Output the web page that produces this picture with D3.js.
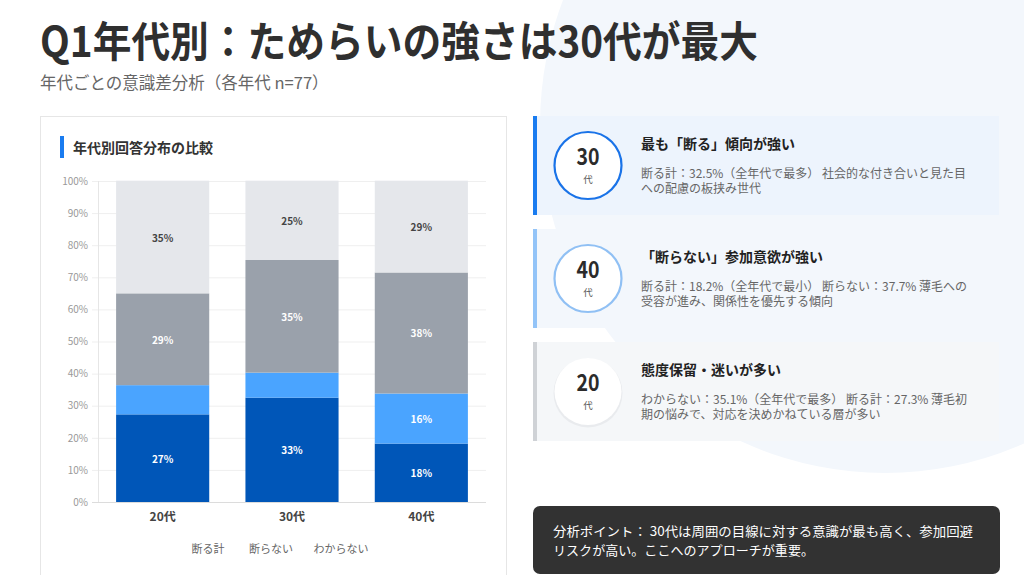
<!DOCTYPE html>
<html lang="ja">
<head>
<meta charset="utf-8">
<script src="https://cdn.jsdelivr.net/npm/d3@7/dist/d3.min.js"></script>
<style>
  html, body { margin: 0; padding: 0; background: #ffffff; }
  svg { display: block; font-family: "Noto Sans CJK JP", "Noto Sans", sans-serif; }
</style>
</head>
<body>
<svg id="page" width="1024" height="575"></svg>
<script>
// ---------- data ----------
const categories = ["20代", "30代", "40代"];
const seriesKeys = ["断る計", "未回答層", "断らない", "わからない"];
const kotowaruValues = [27.3, 32.5, 18.2];
const middleValues = [9.1, 7.8, 15.6];
const kotowaranaiValues = [28.6, 35.1, 37.7];
const wakaranaiValues = [35.1, 24.7, 28.6];
const legendLabels = ["断る計", "断らない", "わからない"];
const yTicks = [0, 10, 20, 30, 40, 50, 60, 70, 80, 90, 100];

const titleText = "Q1年代別：ためらいの強さは30代が最大";
const subtitleText = "年代ごとの意識差分析（各年代 n=77）";
const chartTitleText = "年代別回答分布の比較";

const cardAges = ["30", "40", "20"];
const cardTitles = ["最も「断る」傾向が強い", "「断らない」参加意欲が強い", "態度保留・迷いが多い"];
const cardLines = [
  ["断る計：32.5%（全年代で最多） 社会的な付き合いと見た目", "への配慮の板挟み世代"],
  ["断る計：18.2%（全年代で最小） 断らない：37.7% 薄毛への", "受容が進み、関係性を優先する傾向"],
  ["わからない：35.1%（全年代で最多） 断る計：27.3% 薄毛初", "期の悩みで、対応を決めかねている層が多い"]
];
const noteLines = ["分析ポイント： 30代は周囲の目線に対する意識が最も高く、参加回避", "リスクが高い。ここへのアプローチが重要。"];

// ---------- styles ----------
const colors = ["#0056b8", "#4aa4ff", "#9aa1ab", "#e5e7eb"];
const labelColors = ["#ffffff", "#ffffff", "#ffffff", "#444444"];
const cardAccent = ["#1a7cf0", "#93c4f8", "#cfd2d6"];
const cardFill = ["#edf4fd", "#f3f7fc", "#f5f7f9"];
const circleStroke = ["#1a73e8", "#90c0f4", "none"];

const svg = d3.select("#page");

// background blob
svg.append("ellipse").attr("cx", 885).attr("cy", 125).attr("rx", 345).attr("ry", 348)
  .attr("fill", "#f3f7fc");

// title & subtitle
svg.append("text").attr("x", 40).attr("y", 38).attr("dominant-baseline", "central")
  .attr("font-size", 42).attr("font-weight", 700).attr("fill", "#2f2f2f")
  .attr("textLength", 718).attr("lengthAdjust", "spacingAndGlyphs").text(titleText);
svg.append("text").attr("x", 40).attr("y", 82).attr("dominant-baseline", "central")
  .attr("font-size", 16.5).attr("fill", "#666").text(subtitleText);

// chart card
svg.append("rect").attr("x", 40.5).attr("y", 116.5).attr("width", 466).attr("height", 500)
  .attr("fill", "#fff").attr("stroke", "#e6e6e6");
svg.append("rect").attr("x", 60).attr("y", 136).attr("width", 4).attr("height", 22).attr("fill", "#1a7cf0");
svg.append("text").attr("x", 73).attr("y", 147).attr("dominant-baseline", "central")
  .attr("font-size", 14).attr("font-weight", 700).attr("fill", "#333").text(chartTitleText);

// scales
const x = d3.scaleBand().domain(categories).range([98, 486]).paddingInner(0.28).paddingOuter(0.14);
const y = d3.scaleLinear().domain([0, 100]).range([502, 181]);

// grid
const g = svg.append("g");
g.selectAll("line.grid").data(yTicks).join("line")
  .attr("x1", 92).attr("x2", 486)
  .attr("y1", d => y(d) + 0.5).attr("y2", d => y(d) + 0.5)
  .attr("stroke", d => d === 0 ? "#dcdcdc" : "#efefef").attr("stroke-width", 1);
g.append("line").attr("x1", 98.5).attr("x2", 98.5).attr("y1", y(100)).attr("y2", y(0))
  .attr("stroke", "#e6e6e6");

// y axis labels via d3 axis
const yAxis = d3.axisLeft(y).tickValues(yTicks).tickFormat(d => d + "%").tickSize(0).tickPadding(0);
const ya = svg.append("g").attr("transform", "translate(88,0)").call(yAxis);
ya.select(".domain").remove();
ya.selectAll("text").attr("font-size", 10).attr("fill", "#999")
  .attr("font-family", "'Noto Sans CJK JP', sans-serif");

// stacked data
const rows = categories.map((c, i) => ({
  cat: c,
  [seriesKeys[0]]: kotowaruValues[i],
  [seriesKeys[1]]: middleValues[i],
  [seriesKeys[2]]: kotowaranaiValues[i],
  [seriesKeys[3]]: wakaranaiValues[i]
}));
const stacked = d3.stack().keys(seriesKeys)(rows);

const layers = svg.append("g").selectAll("g.layer").data(stacked).join("g")
  .attr("fill", (d, i) => colors[i]);
layers.selectAll("rect").data(d => d).join("rect")
  .attr("x", d => x(d.data.cat))
  .attr("width", x.bandwidth())
  .attr("y", d => y(d[1]))
  .attr("height", d => y(d[0]) - y(d[1]));

// segment labels
const lab = svg.append("g");
stacked.forEach((layer, si) => {
  lab.selectAll("text.s" + si).data(layer.filter(d => (d[1] - d[0]) >= 10)).join("text")
    .attr("x", d => x(d.data.cat) + x.bandwidth() / 2)
    .attr("y", d => y((d[0] + d[1]) / 2))
    .attr("text-anchor", "middle").attr("dominant-baseline", "central")
    .attr("font-size", 10).attr("font-weight", 700).attr("fill", labelColors[si])
    .text(d => Math.round(d[1] - d[0]) + "%");
});

// x axis labels
const xAxis = d3.axisBottom(x).tickSize(0).tickPadding(0);
const xa = svg.append("g").attr("transform", "translate(0,512)").call(xAxis);
xa.select(".domain").remove();
xa.selectAll("text").attr("font-size", 12).attr("font-weight", 700).attr("fill", "#444")
  .attr("font-family", "'Noto Sans CJK JP', sans-serif");

// legend (text only)
const legendX = [208, 271, 341];
svg.append("g").selectAll("text").data(legendLabels).join("text")
  .attr("x", (d, i) => legendX[i]).attr("y", 548)
  .attr("text-anchor", "middle").attr("dominant-baseline", "central")
  .attr("font-size", 11).attr("fill", "#666").text(d => d);

// right cards
const cardTop = [116, 229, 342];
const cardH = 99;
cardTop.forEach((top, i) => {
  const cg = svg.append("g");
  cg.append("rect").attr("x", 533).attr("y", top).attr("width", 466).attr("height", cardH)
    .attr("fill", cardFill[i]);
  cg.append("rect").attr("x", 533).attr("y", top).attr("width", 4).attr("height", cardH)
    .attr("fill", cardAccent[i]);
  const cy = top + 49.5;
  if (i === 2) {
    cg.append("circle").attr("cx", 588).attr("cy", cy + 1.5).attr("r", 34.5).attr("fill", "#e9ebee");
  }
  cg.append("circle").attr("cx", 588).attr("cy", cy).attr("r", 33.5)
    .attr("fill", "#fff").attr("stroke", circleStroke[i]).attr("stroke-width", 2.2);
  cg.append("text").attr("x", 588).attr("y", cy - 11).attr("text-anchor", "middle")
    .attr("dominant-baseline", "central").attr("font-size", 23).attr("font-weight", 700)
    .attr("fill", "#2b2b2b").attr("textLength", 23).attr("lengthAdjust", "spacingAndGlyphs")
    .text(cardAges[i]);
  cg.append("text").attr("x", 588).attr("y", cy + 13.5).attr("text-anchor", "middle")
    .attr("dominant-baseline", "central").attr("font-size", 9.5).attr("fill", "#555").text("代");
  cg.append("text").attr("x", 641).attr("y", top + 27).attr("dominant-baseline", "central")
    .attr("font-size", 14).attr("font-weight", 700).attr("fill", "#222").text(cardTitles[i]);
  cg.selectAll("text.body").data(cardLines[i]).join("text")
    .attr("x", 641).attr("y", (d, j) => top + 56 + j * 15).attr("dominant-baseline", "central")
    .attr("font-size", 12).attr("fill", "#666").text(d => d);
});

// note box
svg.append("rect").attr("x", 533).attr("y", 506).attr("width", 467).attr("height", 68)
  .attr("rx", 7).attr("fill", "#323232");
svg.append("g").selectAll("text").data(noteLines).join("text")
  .attr("x", 553).attr("y", (d, j) => 530.5 + j * 18.5).attr("dominant-baseline", "central")
  .attr("font-size", 12.6).attr("fill", "#fff")
  .attr("textLength", (d, j) => j === 0 ? 420 : 261).attr("lengthAdjust", "spacingAndGlyphs")
  .text(d => d);
</script>
</body>
</html>
